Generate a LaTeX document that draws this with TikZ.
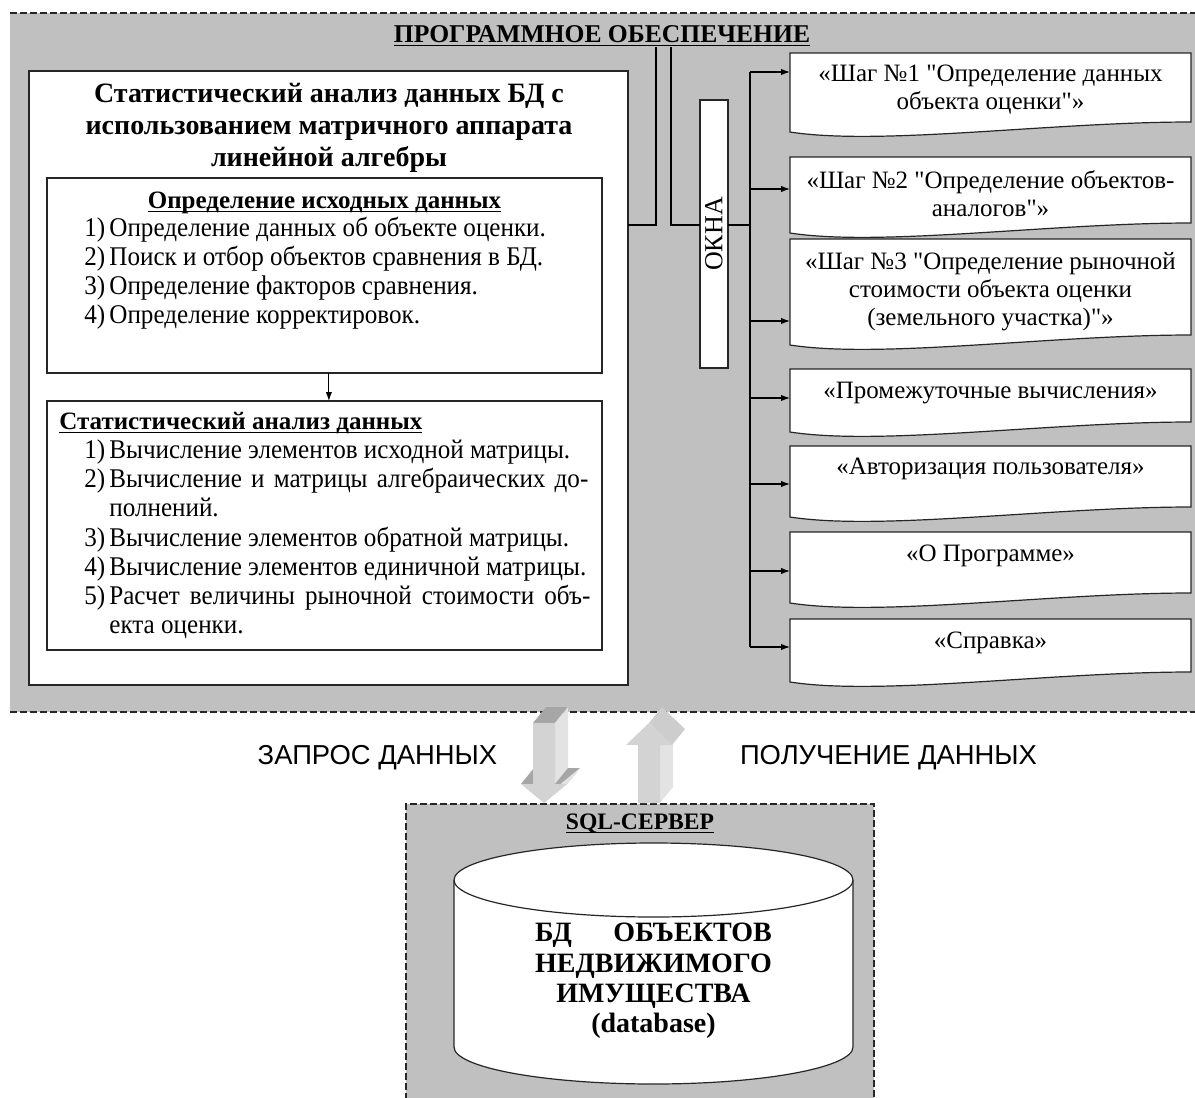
\documentclass[tikz,border=0pt]{standalone}
\usepackage{fontspec}
\setmainfont{Liberation Serif}
\newfontfamily\rf{Liberation Serif}
\newfontfamily\condf{Liberation Serif}[FakeStretch=0.93]
\newfontfamily\sansf{Liberation Sans}
\usetikzlibrary{arrows.meta,calc}
\newcommand\myul[1]{\setbox0\hbox{#1}\rlap{\rule[-2.2pt]{\wd0}{0.9pt}}\box0}
\definecolor{bgray}{HTML}{C0C0C0}
\definecolor{adark}{HTML}{A6A6A6}
\definecolor{afront}{HTML}{D3D3D3}
\definecolor{aside}{HTML}{E3E3E3}
\definecolor{atop}{HTML}{CDCDCD}
\begin{document}
\begin{tikzpicture}[x=0.5pt,y=-0.5pt,
  box/.style={draw=black!85, line width=0.6pt, fill=white, anchor=north west, inner sep=0pt, outer sep=0pt},
  docst/.style={draw=black!85, line width=0.6pt, fill=white},
  ghost/.style={draw=none, anchor=north west, inner sep=0pt, outer sep=0pt},
  conn/.style={draw=black, line width=0.55pt},
  arr/.style={conn, -{Latex[length=4.5pt,width=3.2pt]}},
  dashline/.style={draw=black!85, line width=0.55pt, dash pattern=on 3.5pt off 1.5pt},
  rtext/.style={align=center, font=\rf\fontsize{12.5}{14}\selectfont, inner sep=0pt},
  itemtext/.style={anchor=base west, font=\condf\fontsize{13.5}{15}\selectfont, inner sep=0pt},
  lbl/.style={font=\sansf\fontsize{13.7}{15}\selectfont, inner sep=0pt}
]
\useasboundingbox (0,0) rectangle (1195,1098);

% upper grey region
\fill[bgray] (10,13) rectangle (1195,712);
\draw[dashline] (10,13) -- (1195,13);
\draw[dashline] (10,712) -- (1195,712);

% header
\node[anchor=base, inner sep=0pt, font=\bfseries\fontsize{12.8}{15}\selectfont] (hdr) at (602,42) {\myul{ПРОГРАММНОЕ ОБЕСПЕЧЕНИЕ}};

% big left box
\node[box, minimum width=299.5pt, minimum height=307pt] (big) at (29,71) {};
\node[align=center, inner sep=0pt, font=\bfseries\fontsize{14}{16}\selectfont] (ttl) at (329,128)
  {Статистический анализ данных БД с\\использованием матричного аппарата\\линейной алгебры};

% inner box 1
\node[box, minimum width=277.5pt, minimum height=97.5pt] (in1) at (47,178) {};
\node[anchor=base, inner sep=0pt, font=\bfseries\fontsize{12.5}{14}\selectfont] (h1) at (324.5,208) {\myul{Определение исходных данных}};
\node[itemtext] (a1) at (84,236) {\makebox[12.5pt][l]{1)}Определение данных об объекте оценки.};
\node[itemtext] (a2) at (84,265) {\makebox[12.5pt][l]{2)}Поиск и отбор объектов сравнения в БД.};
\node[itemtext] (a3) at (84,294) {\makebox[12.5pt][l]{3)}Определение факторов сравнения.};
\node[itemtext] (a4) at (84,323) {\makebox[12.5pt][l]{4)}Определение корректировок.};

% inner box 2
\node[box, minimum width=277.5pt, minimum height=124.5pt] (in2) at (47,401) {};
\node[anchor=base west, inner sep=0pt, font=\bfseries\fontsize{12.5}{14}\selectfont] (h2) at (59,429) {\myul{Статистический анализ данных}};
\node[itemtext] (b1) at (84,458) {\makebox[12.5pt][l]{1)}Вычисление элементов исходной матрицы.};
\node[itemtext] (b2) at (84,487) {\makebox[12.5pt][l]{2)}\makebox[239.5pt][s]{Вычисление и матрицы алгебраических до-}};
\node[itemtext] (b2c) at (109,516) {полнений.};
\node[itemtext] (b3) at (84,546) {\makebox[12.5pt][l]{3)}Вычисление элементов обратной матрицы.};
\node[itemtext] (b4) at (84,575) {\makebox[12.5pt][l]{4)}Вычисление элементов единичной матрицы.};
\node[itemtext] (b5) at (84,604) {\makebox[12.5pt][l]{5)}\makebox[240.5pt][s]{Расчет величины рыночной стоимости объ-}};
\node[itemtext] (b5c) at (109,633) {екта оценки.};

\draw[arr] ([xshift=2.2pt]in1.south) -- ([xshift=2.2pt]in2.north);

% OKNA
\node[box, minimum width=14pt, minimum height=134pt] (okna) at (700,100) {};
\node[rotate=90, inner sep=0pt, font=\fontsize{13}{15}\selectfont] (oknat) at (okna.center) {ОКНА};

% window documents
\foreach \i/\t/\rb in {1/53/122, 2/157/223, 3/239/335, 4/369/422, 5/446/507, 6/532/593, 7/619/672}{
  \node[ghost, minimum width=200.5pt, minimum height={(\rb-\t)*0.5pt}] (w\i) at (790,\t) {};
  \draw[docst] (w\i.north west) -- (w\i.north east) -- (w\i.south east)
     .. controls +(-140,0) and +(90,14) .. ($(w\i.south west)+(0,10)$) -- cycle;
}
\node[rtext] (t1) at (990.5,90) {«Шаг №1 "Определение данных\\объекта оценки"»};
\node[rtext] (t2) at (990.5,194) {«Шаг №2 "Определение объектов-\\аналогов"»};
\node[rtext] (t3) at (990.5,292) {«Шаг №3 "Определение рыночной\\стоимости объекта оценки\\(земельного участка)"»};
\node[rtext] (t4) at (990.5,393) {«Промежуточные вычисления»};
\node[rtext] (t5) at (990.5,469) {«Авторизация пользователя»};
\node[rtext] (t6) at (990.5,556) {«О Программе»};
\node[rtext] (t7) at (990.5,643) {«Справка»};

% connectors
\coordinate (hL) at (656,47);
\coordinate (hR) at (671,47);
\coordinate (jy) at (0,225);
\coordinate (tTop) at (750,72);
\coordinate (tBot) at (750,647);
\draw[conn] (hL) |- (big.east |- jy);
\draw[conn] (hR) |- (okna.west |- jy);
\draw[conn] (okna.east |- jy) -- (tTop |- jy);
\draw[conn] (tTop) -- (tBot);
\foreach \i/\ay in {1/72, 2/189, 3/321, 4/398, 5/484, 6/571, 7/647}{
  \draw[arr] (tTop |- 0,\ay) -- (w\i.west |- 0,\ay);
}

% labels
\node[lbl] (q) at (377.5,758) {ЗАПРОС ДАННЫХ};
\node[lbl] (p) at (888.5,758) {ПОЛУЧЕНИЕ ДАННЫХ};

% SQL server region
\fill[bgray] (406,804) rectangle (874,1098);
\draw[dashline] (406,1100) -- (406,804) -- (874,804) -- (874,1100);
\node[anchor=base, inner sep=0pt, font=\bfseries\fontsize{11.8}{14}\selectfont] (sql) at (640,829) {\myul{SQL-СЕРВЕР}};

% cylinder
\draw[docst] (454,880) -- (454,1047) arc[start angle=180, end angle=360, x radius=99.75pt, y radius=18.5pt]
  -- (853,880) arc[start angle=0, end angle=180, x radius=99.75pt, y radius=18.5pt] -- cycle;
\draw[draw=black!85, line width=0.6pt] (454,880) arc[start angle=180, end angle=360, x radius=99.75pt, y radius=18.5pt];
\node[align=center, inner sep=0pt, font=\bfseries\fontsize{14}{15.2}\selectfont] (db) at (653.5,981)
  {\setbox0\hbox{НЕДВИЖИМОГО}\hbox to \wd0{БД\hfill ОБЪЕКТОВ}\\НЕДВИЖИМОГО\\ИМУЩЕСТВА\\(database)};

% 3D arrows: down (request)
\fill[adark] (521,784) -- (533,784) -- (546,768) -- (534,768) -- cycle;
\fill[adark] (533,723) -- (555,723) -- (568,707) -- (546,707) -- cycle;
\fill[aside] (555,723) -- (568,707) -- (568,768) -- (555,784) -- cycle;
\fill[adark] (555,784) -- (567,784) -- (580,768) -- (568,768) -- cycle;
\fill[aside] (567,784) -- (580,768) -- (557,787) -- (544,803) -- cycle;
\fill[afront] (533,723) -- (555,723) -- (555,784) -- (567,784) -- (544,803) -- (521,784) -- (533,784) -- cycle;
% up (response)
\fill[aside] (660,803) -- (673,787) -- (673,729) -- (660,745) -- cycle;
\fill[atop] (649,723) -- (662,707) -- (685,729) -- (672,745) -- cycle;
\fill[afront] (638,803) -- (660,803) -- (660,745) -- (672,745) -- (649,723) -- (626,745) -- (638,745) -- cycle;
\end{tikzpicture}
\end{document}
